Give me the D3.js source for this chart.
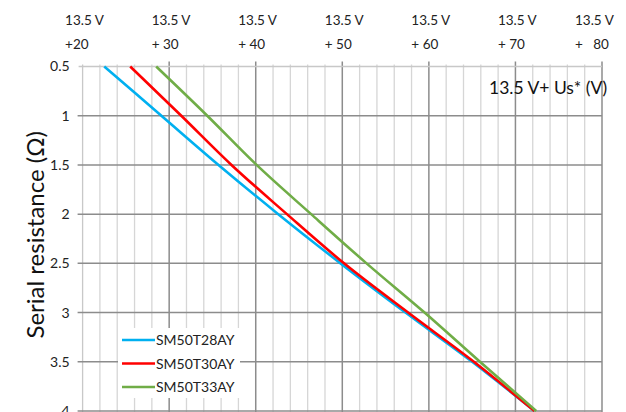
<!DOCTYPE html>
<html><head><meta charset="utf-8">
<script src="https://cdn.jsdelivr.net/npm/d3@7"></script>
<style>
html,body{margin:0;padding:0;background:#fff;}
svg{display:block;font-family:Lato,"Open Sans",sans-serif;}
</style></head>
<body>
<svg id="chart" width="626" height="412"></svg>
<script>
// Data
const resistance = [0.5, 1, 1.5, 2, 2.5, 3, 3.5, 4];
const seriesNames = ["SM50T28AY", "SM50T30AY", "SM50T33AY"];
const voltT28 = [22.5, 29.1, 35.7, 42.6, 49.8, 57.3, 65.0, 72.2];
const voltT30 = [25.5, 31.4, 37.2, 43.6, 50.2, 57.6, 65.2, 72.2];
const voltT33 = [28.5, 34.4, 40.1, 46.4, 52.8, 59.5, 65.9, 72.4];
const seriesColors = ["#00b0f0", "#ff0000", "#70ad47"];
const xTicks = [20, 30, 40, 50, 60, 70, 80];
const xTopLine1 = ["13.5 V", "13.5 V", "13.5 V", "13.5 V", "13.5 V", "13.5 V", "13.5 V"];
const xTopLine2 = ["+20", "+ 30", "+ 40", "+ 50", "+ 60", "+ 70", "+   80"];
const yTicks = [0.5, 1, 1.5, 2, 2.5, 3, 3.5, 4];
const yTitle = "Serial resistance (\u03A9)";
const xTitle = "13.5 V+ Us* (V)";

(function () {
const svg = d3.select("#chart");
const pL = 82.6, pR = 602, pT = 66.5, pB = 411;
const x = d3.scaleLinear().domain([20, 80]).range([pL, pR]);
const y = d3.scaleLinear().domain([0.5, 4]).range([pT, pB]);

// minor vertical grid
const minor = d3.range(20, 80.01, 2).filter(v => v % 10 !== 0);
svg.append("g").selectAll("line").data(minor).join("line")
  .attr("x1", d => x(d)).attr("x2", d => x(d))
  .attr("y1", pT - 2).attr("y2", pB + 2)
  .attr("stroke", "#d6d6d6").attr("stroke-width", 1.3);

// major vertical grid
svg.append("g").selectAll("line").data(xTicks).join("line")
  .attr("x1", d => x(d)).attr("x2", d => x(d))
  .attr("y1", d => d === 20 ? pT - 2 : pT - 5).attr("y2", pB + 2)
  .attr("stroke", d => d === 20 ? "#c8c8c8" : "#8c8c8c").attr("stroke-width", d => d === 20 ? 1.3 : 1.5);

// horizontal grid
svg.append("g").selectAll("line").data(yTicks).join("line")
  .attr("x1", d => d === 0.5 ? pL - 4 : pL - 5).attr("x2", pR)
  .attr("y1", d => y(d)).attr("y2", d => y(d))
  .attr("stroke", d => d === 0.5 ? "#c8c8c8" : "#8c8c8c").attr("stroke-width", 1.5);

// y tick labels via axis
const yAxis = svg.append("g").attr("transform", `translate(${pL},0)`)
  .call(d3.axisLeft(y).tickValues(yTicks).tickSize(0).tickPadding(13).tickFormat(d3.format("")));
yAxis.select(".domain").remove();
yAxis.selectAll("text").attr("font-size", 14).attr("fill", "#222").attr("font-family", "Lato, sans-serif");

// top labels
const topG = svg.append("g").attr("font-size", 13.5).attr("fill", "#222");
topG.selectAll("text.l1").data(xTicks).join("text").attr("class", "l1")
  .attr("x", (d, i) => x(d) - (i === xTicks.length - 1 ? 27 : 17.5)).attr("y", 25)
  .text((d, i) => xTopLine1[i]);
topG.selectAll("text.l2").data(xTicks).join("text").attr("class", "l2")
  .attr("x", (d, i) => x(d) - (i === xTicks.length - 1 ? 27 : 17.5)).attr("y", 49)
  .attr("xml:space", "preserve").style("white-space", "pre")
  .text((d, i) => xTopLine2[i]);

// x title annotation
svg.append("text").attr("x", 489).attr("y", 94).attr("font-size", 17.5).attr("fill", "#111")
  .text(xTitle);

// y title
svg.append("text").attr("transform", `translate(44,${(pT + pB) / 2 - 4}) rotate(-90)`)
  .attr("text-anchor", "middle").attr("font-size", 24).attr("fill", "#111")
  .text(yTitle);

// lines
const allSeries = [voltT28, voltT30, voltT33];
const line = d3.line().x(d => x(d[0])).y(d => y(d[1])).curve(d3.curveMonotoneX);
svg.append("g").selectAll("path").data(allSeries).join("path")
  .attr("d", s => line(s.map((v, i) => [v, resistance[i]])))
  .attr("fill", "none").attr("stroke", (s, i) => seriesColors[i]).attr("stroke-width", 2.6);

// legend
const lg = svg.append("g");
lg.append("rect").attr("x", 118).attr("y", 328).attr("width", 122).attr("height", 70).attr("fill", "#fff");
seriesNames.forEach((n, i) => {
  const yy = 340 + i * 23.5;
  lg.append("line").attr("x1", 122).attr("x2", 155).attr("y1", yy).attr("y2", yy)
    .attr("stroke", seriesColors[i]).attr("stroke-width", 2.6);
  lg.append("text").attr("x", 156).attr("y", yy + 5).attr("font-size", 14).attr("fill", "#222").text(n);
});
})();
</script>
</body></html>
